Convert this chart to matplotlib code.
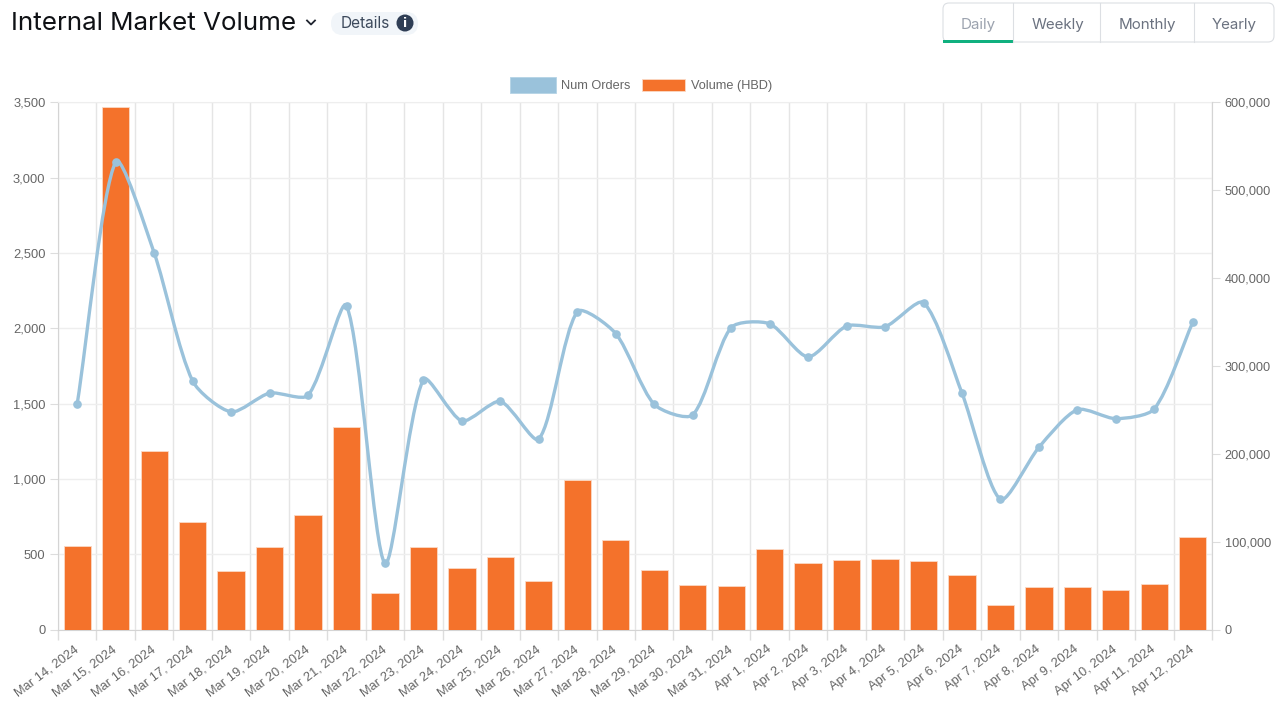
import matplotlib
matplotlib.use('Agg')
import matplotlib.pyplot as plt
import numpy as np
from matplotlib.path import Path
from matplotlib.patches import PathPatch, FancyBboxPatch, Rectangle, Circle
from matplotlib.ticker import FuncFormatter

dates = ['Mar 14, 2024', 'Mar 15, 2024', 'Mar 16, 2024', 'Mar 17, 2024', 'Mar 18, 2024',
         'Mar 19, 2024', 'Mar 20, 2024', 'Mar 21, 2024', 'Mar 22, 2024', 'Mar 23, 2024',
         'Mar 24, 2024', 'Mar 25, 2024', 'Mar 26, 2024', 'Mar 27, 2024', 'Mar 28, 2024',
         'Mar 29, 2024', 'Mar 30, 2024', 'Mar 31, 2024', 'Apr 1, 2024', 'Apr 2, 2024',
         'Apr 3, 2024', 'Apr 4, 2024', 'Apr 5, 2024', 'Apr 6, 2024', 'Apr 7, 2024',
         'Apr 8, 2024', 'Apr 9, 2024', 'Apr 10, 2024', 'Apr 11, 2024', 'Apr 12, 2024']
num_orders = [1500, 3105, 2500, 1650, 1445, 1570, 1555, 2150, 440, 1660,
              1385, 1515, 1265, 2110, 1965, 1495, 1425, 2005, 2030, 1810,
              2015, 2010, 2170, 1570, 865, 1210, 1460, 1400, 1465, 2040]
volume = [95500, 594000, 203600, 122800, 67100, 94400, 130800, 231000, 42000, 94400,
          70500, 83000, 55700, 170600, 102400, 68200, 51200, 50000, 92100, 76200,
          79600, 80800, 78500, 62600, 28400, 48900, 48900, 45500, 52300, 105800]

BLUE = '#9ac2db'
ORANGE = '#f4722b'
TICK = '#666666'

W, H = 1280, 706
fig = plt.figure(figsize=(12.8, 7.06), dpi=100)
pos = [58 / W, 1 - 629.7 / H, 1154 / W, 527.5 / H]

x = np.arange(len(dates))
edges = np.arange(len(dates) + 1) - 0.5

# left scale and grid sit at the bottom
ax = fig.add_axes(pos)
ax.set_xlim(-0.5, len(dates) - 0.5)
ax.set_ylim(0, 3500)
ax.set_yticks(range(0, 3501, 500))
ax.yaxis.set_major_formatter(FuncFormatter(lambda v, p: f'{int(v):,}'))
ax.set_xticks(x)
ax.set_xticklabels(dates, rotation=37, ha='right', va='center', rotation_mode='anchor')
ax.set_xticks(edges, minor=True)
ax.grid(True, axis='y', color='#eeeeee', lw=1)
ax.grid(True, axis='x', which='minor', color='#e5e5e5', lw=1)
ax.set_axisbelow(True)
ax.tick_params(axis='x', which='major', length=0, pad=13.2, labelsize=9.3, labelcolor=TICK)
ax.tick_params(axis='x', which='minor', length=7, color='#dddddd', width=1)
ax.tick_params(axis='y', length=6, color='#dddddd', labelsize=9.3, labelcolor=TICK, pad=3)
for s in ax.spines.values():
    s.set_color('#eeeeee')
ax.spines['left'].set_color('#d4d4d4')
ax.spines['bottom'].set_color('#d4d4d4')

# bars use the right scale
ax2 = ax.twinx()
ax2.set_ylim(0, 600000)
ax2.set_yticks(range(0, 600001, 100000))
ax2.yaxis.set_major_formatter(FuncFormatter(lambda v, p: f'{int(v):,}'))
ax2.tick_params(axis='y', length=6, color='#dddddd', labelsize=9.2, labelcolor=TICK, pad=3)
ax2.bar(x, volume, width=0.71, color=ORANGE, edgecolor='#fbd9c4', linewidth=0.6)
for s in ax2.spines.values():
    s.set_visible(False)
ax2.spines['right'].set_visible(True)
ax2.spines['right'].set_color('#d4d4d4')

# line goes on top with the left scale again
ax3 = ax.twinx()
ax3.set_ylim(0, 3500)
ax3.axis('off')

# same spline as the original chart lib, control points worked out in pixels
pts = ax3.transData.transform(np.column_stack([x, num_orders]))
t = 0.25
verts = [pts[0]]
codes = [Path.MOVETO]
for i in range(len(pts) - 1):
    p0 = pts[max(i - 1, 0)]
    p1, p2 = pts[i], pts[i + 1]
    p3 = pts[min(i + 2, len(pts) - 1)]
    d01, d12 = np.hypot(*(p1 - p0)), np.hypot(*(p2 - p1))
    d23 = np.hypot(*(p3 - p2))
    c1 = p1 + t * (d12 / (d01 + d12)) * (p2 - p0)
    c2 = p2 - t * (d12 / (d12 + d23)) * (p3 - p1)
    verts += [c1, c2, p2]
    codes += [Path.CURVE4] * 3
curve = ax3.transData.inverted().transform(np.array(verts))
ax3.add_patch(PathPatch(Path(curve, codes), fc='none', ec=BLUE, lw=2.4, capstyle='round'))
ax3.plot(x, num_orders, ls='none', marker='o', ms=5.2, color=BLUE)

# page furniture, drawn in pixel coordinates
ui = fig.add_axes([0, 0, 1, 1], zorder=10)
ui.set_xlim(0, W)
ui.set_ylim(H, 0)
ui.axis('off')

ui.text(11, 24, 'Internal Market Volume', family='Inter', fontsize=18.7, color='#0f1115', va='center')
ui.plot([307, 311, 315], [20.5, 24.5, 20.5], color='#1f2430', lw=1.3)
ui.add_patch(FancyBboxPatch((331, 12), 87, 23, boxstyle='round,pad=0,rounding_size=11.5',
                            fc='#f1f5f9', ec='none'))
ui.text(341, 24, 'Details', family='Inter', fontsize=11.1, color='#3d4a5c', va='center')
ui.add_patch(Circle((405, 23), 8.5, fc='#2f3e55', ec='none'))
ui.text(405, 23.5, 'i', family='DejaVu Sans', fontsize=9, weight='bold', color='white',
        ha='center', va='center')

# period tabs
ui.add_patch(FancyBboxPatch((943, 3), 331, 39, boxstyle='round,pad=0,rounding_size=6',
                            fc='white', ec='#dcdfe3', lw=0.8))
for bx in [1013, 1100, 1194]:
    ui.plot([bx, bx], [3, 42], color='#dcdfe3', lw=0.8)
ui.add_patch(Rectangle((943, 40), 70, 2.5, fc='#10b07f', ec='none'))
tab_labels = ['Daily', 'Weekly', 'Monthly', 'Yearly']
tab_x = [978, 1057.5, 1147.5, 1234.5]
tab_colors = ['#9ca3af', '#6b7280', '#6b7280', '#6b7280']
for lbl, tx, tc in zip(tab_labels, tab_x, tab_colors):
    ui.text(tx, 24.5, lbl, family='Inter', fontsize=10.9, color=tc, ha='center', va='center')

# legend
ui.add_patch(Rectangle((510, 77), 46, 16, fc=BLUE, ec='#b5d3e6', lw=0.6))
ui.text(561, 89, 'Num Orders', family='Liberation Sans', fontsize=9.2, color=TICK, va='baseline')
ui.add_patch(Rectangle((642, 79), 43, 12, fc=ORANGE, ec='#fbd9c4', lw=0.6))
ui.text(691, 89, 'Volume (HBD)', family='Liberation Sans', fontsize=9.2, color=TICK, va='baseline')

for a in (ax, ax2):
    for lb in a.get_xticklabels() + a.get_yticklabels():
        lb.set_family('Liberation Sans')

fig.savefig('out.png', dpi=100)
